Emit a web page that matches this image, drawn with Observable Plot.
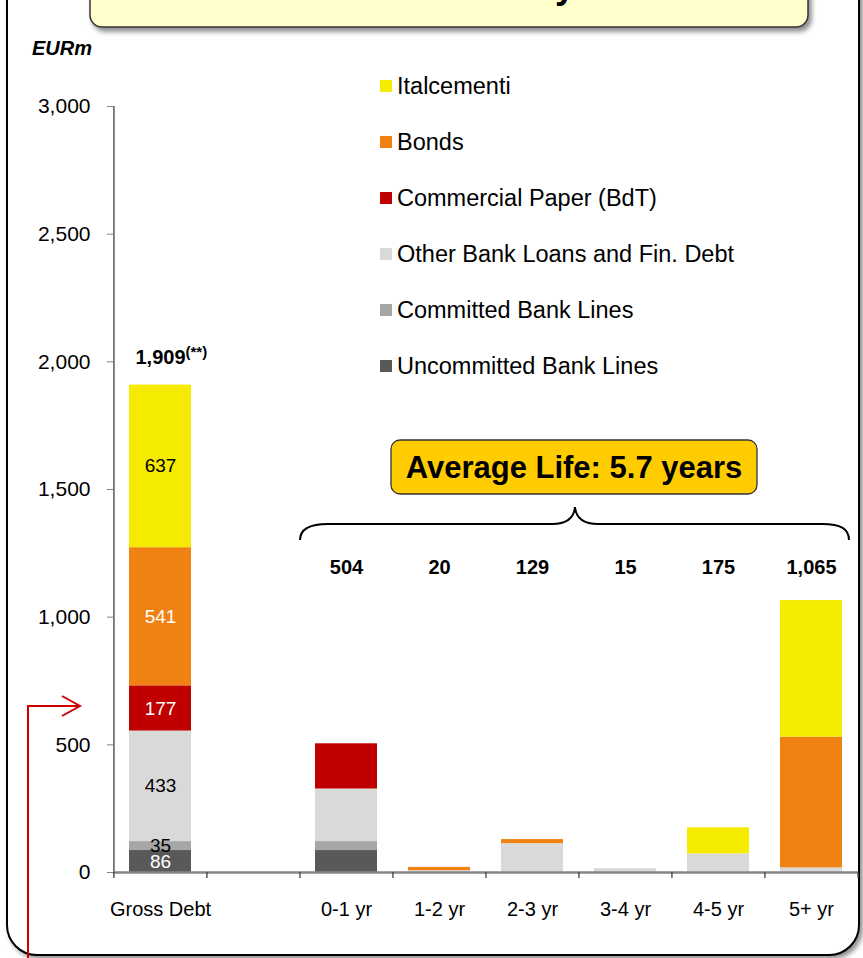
<!DOCTYPE html>
<html><head><meta charset="utf-8">
<script src="https://cdn.jsdelivr.net/npm/d3@7"></script>
<script src="https://cdn.jsdelivr.net/npm/@observablehq/plot@0.6"></script>
<style>
body{margin:0;background:#fff;font-family:"Liberation Sans",Arial,sans-serif;}
#wrap{position:relative;width:863px;height:958px;overflow:hidden;}
#wrap>svg,#wrap>div{position:absolute;left:0;top:0;}
.leg{position:absolute;left:380px;height:28px;display:flex;align-items:center;font-size:23.5px;color:#000;white-space:nowrap;}
.leg span.sw{display:inline-block;width:12px;height:12px;margin-right:5px;}
</style></head><body><div id="wrap"></div>
<script>
// ---- data ----
const categories = ["Gross Debt", " ", "0-1 yr", "1-2 yr", "2-3 yr", "3-4 yr", "4-5 yr", "5+ yr"];
const buckets = ["0-1 yr", "1-2 yr", "2-3 yr", "3-4 yr", "4-5 yr", "5+ yr"];
const series = ["Uncommitted Bank Lines", "Committed Bank Lines", "Other Bank Loans and Fin. Debt", "Commercial Paper (BdT)", "Bonds", "Italcementi"];
const seriesColors = ["#595959", "#a6a6a6", "#d9d9d9", "#c00000", "#f08213", "#f5eb00"];
const grossDebt = [86, 35, 433, 177, 541, 637];
const grossTotal = 1909;
const uncommitted = [86, 0, 0, 0, 0, 0];
const committed = [35, 0, 0, 0, 0, 0];
const otherLoans = [206, 7, 113, 15, 73, 18];
const commercialPaper = [177, 0, 0, 0, 0, 0];
const bonds = [0, 13, 16, 0, 0, 512];
const italcementi = [0, 0, 0, 0, 102, 535];
const bucketTotals = [504, 20, 129, 15, 175, 1065];
const yTicks = [0, 500, 1000, 1500, 2000, 2500, 3000];
const whiteLabelSeries = ["Uncommitted Bank Lines", "Commercial Paper (BdT)", "Bonds"];

const bucketValues = [uncommitted, committed, otherLoans, commercialPaper, bonds, italcementi];
const fmt = d3.format(",");

const grossRows = series.map((s, i) => ({cat: categories[0], s, v: grossDebt[i]}));
const rows = grossRows.slice();
buckets.forEach((b, j) => series.forEach((s, i) => rows.push({cat: b, s, v: bucketValues[i][j]})));
const totalRows = buckets.map((b, j) => ({cat: b, v: bucketTotals[j]}));

// ---- layout ----
const W = 863, H = 958, ML = 113, MR = 5, MT = 106, MB = 86;
const step = (W - ML - MR) / categories.length;
const pxPerUnit = (H - MT - MB) / 3000;
const tickUnits = 6 / pxPerUnit;
const FONT = "'Liberation Sans', Arial, sans-serif";

const wrap = document.getElementById("wrap");

// background frame
const ns = "http://www.w3.org/2000/svg";
wrap.insertAdjacentHTML("beforeend", `
<svg width="${W}" height="${H}" xmlns="${ns}">
  <defs>
    <filter id="sh" x="-10%" y="-10%" width="130%" height="130%">
      <feDropShadow dx="3" dy="3" stdDeviation="2.5" flood-color="#000" flood-opacity="0.45"/>
    </filter>
  </defs>
  <rect x="7" y="-60" width="852" height="1015" rx="30" ry="30" fill="#fff" stroke="#000" stroke-width="2" filter="url(#sh)"/>
</svg>`);

const chart = Plot.plot({
  width: W, height: H,
  marginLeft: ML, marginRight: MR, marginTop: MT, marginBottom: MB,
  style: {background: "transparent", fontFamily: FONT, fontSize: "20px", color: "#000", overflow: "visible"},
  x: {domain: categories, paddingInner: 0.33, paddingOuter: 0.165, label: null},
  y: {domain: [0, 3000], label: null},
  color: {domain: series, range: seriesColors},
  marks: [
    Plot.ruleX(categories.slice(0, 1), {x: d => d, dx: -step / 2, y1: 0, y2: 3000, stroke: "#404040", strokeWidth: 1.3}),
    Plot.barY(rows, Plot.stackY({x: "cat", y: "v", fill: "s", order: series})),
    Plot.text(grossRows, Plot.stackY({x: "cat", y: "v", z: "s", order: series,
      text: d => whiteLabelSeries.includes(d.s) ? fmt(d.v) : "", fill: "#fff", fontSize: 19})),
    Plot.text(grossRows, Plot.stackY({x: "cat", y: "v", z: "s", order: series,
      text: d => whiteLabelSeries.includes(d.s) ? "" : fmt(d.v), fill: "#000", fontSize: 19})),
    Plot.ruleY([0], {stroke: "#868686", strokeWidth: 2.5}),
    Plot.ruleX(categories, {x: d => d, dx: -step / 2, y1: 0, y2: -tickUnits, stroke: "#404040", strokeWidth: 1.3}),
    Plot.ruleX(categories.slice(-1), {x: d => d, dx: step / 2, y1: 0, y2: -tickUnits, stroke: "#404040", strokeWidth: 1.3}),
    Plot.axisY({ticks: yTicks, tickSize: 6, tickPadding: 17, tickFormat: fmt, label: null, stroke: "#808080", fill: "#000", fontSize: 21}),
    Plot.axisX({tickSize: 0, tickPadding: 29, label: null, fill: "#000", fontSize: 20}),
    Plot.text(totalRows, {x: "cat", frameAnchor: "top", dy: 453, text: d => fmt(d.v), fontWeight: "bold", fontSize: 20}),
    Plot.text([{cat: categories[0], v: grossTotal}], {x: "cat", y: "v", dy: -27.5, dx: 0, text: d => fmt(d.v), fontWeight: "bold", fontSize: 20}),
    Plot.text([{cat: categories[0], v: grossTotal}], {x: "cat", y: "v", dy: -33, dx: 25, text: () => "(**)", textAnchor: "start", fontWeight: "bold", fontSize: 15})
  ]
});
wrap.appendChild(chart);

// overlays
wrap.insertAdjacentHTML("beforeend", `
<svg width="${W}" height="${H}" xmlns="${ns}" style="pointer-events:none">
  <defs>
    <filter id="sh2" x="-10%" y="-30%" width="130%" height="180%">
      <feDropShadow dx="3" dy="4" stdDeviation="2.5" flood-color="#000" flood-opacity="0.45"/>
    </filter>
  </defs>
  <rect x="90" y="-40" width="718" height="67" rx="12" ry="12" fill="#ffffcc" stroke="#333" stroke-width="1.5" filter="url(#sh2)"/>
  <text x="575" y="-2" text-anchor="end" font-family="${FONT}" font-weight="bold" font-size="36" fill="#000">Debt Maturity</text>
  <text x="32" y="55" font-family="${FONT}" font-weight="bold" font-style="italic" font-size="20" fill="#000">EURm</text>
  <path d="M300,540 C300,529 309,524 328,524 L552,524 C566,524 574,518 575,507 C576,518 584,524 598,524 L822,524 C841,524 849,529 849,540" fill="none" stroke="#000" stroke-width="2"/>
  <rect x="391" y="440" width="366" height="54" rx="9" ry="9" fill="#ffcc00" stroke="#333" stroke-width="1.3"/>
  <text x="574" y="478" text-anchor="middle" font-family="${FONT}" font-weight="bold" font-size="31" fill="#000">Average Life: 5.7 years</text>
  <polyline points="28,960 28,706 79,706" fill="none" stroke="#cc0000" stroke-width="2"/>
  <polyline points="62,696 80,706 62,716" fill="none" stroke="#cc0000" stroke-width="2"/>
</svg>`);

// legend (top to bottom: reverse stacking order)
const legend = document.createElement("div");
series.slice().reverse().forEach((s, k) => {
  const i = series.indexOf(s);
  const item = document.createElement("div");
  item.className = "leg";
  item.style.top = (86 + 56 * k - 14) + "px";
  item.innerHTML = `<span class="sw" style="background:${seriesColors[i]}"></span>${s}`;
  legend.appendChild(item);
});
wrap.appendChild(legend);
</script>
</body></html>
